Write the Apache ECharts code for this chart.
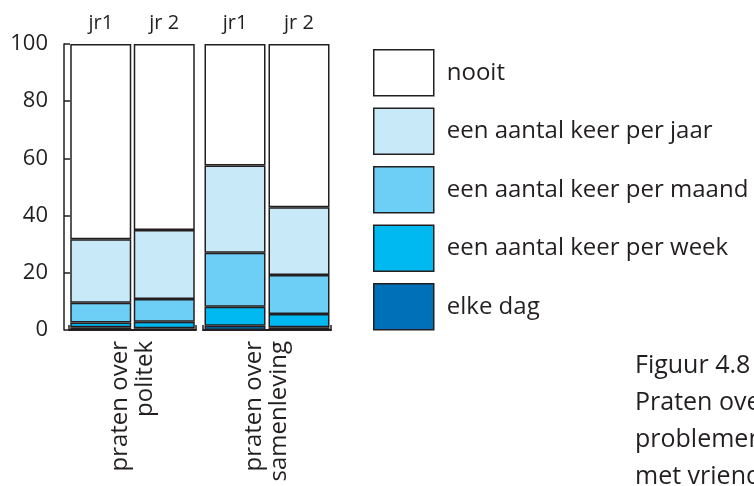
<!DOCTYPE html>
<html>
<head>
<meta charset="utf-8">
<script src="https://cdn.jsdelivr.net/npm/echarts@6/dist/echarts.min.js"></script>
<style>
html,body{margin:0;padding:0;background:#fff}
#main{width:754px;height:486px}
</style>
</head>
<body>
<div id="main"></div>
<script>
// data, bar order: politek jr1, politek jr2, samenleving jr1, samenleving jr2
var groups = ['praten over\npolitek', 'praten over\nsamenleving']
var years = ['jr1', 'jr 2']
var seriesNames = ['elke dag', 'een aantal keer per week', 'een aantal keer per maand', 'een aantal keer per jaar', 'nooit']
var dag = [1.0, 0.6, 1.5, 1.0]
var week = [1.6, 2.3, 6.6, 4.6]
var maand = [6.9, 7.9, 18.9, 13.6]
var jaar = [22.2, 24.2, 30.5, 23.7]
var nooit = [68.3, 65.0, 42.5, 57.1]
var yTicks = [0, 20, 40, 60, 80, 100]
var caption = 'Figuur 4.8\nPraten over\nproblemen\nmet vrienden'

var colors = ['#0070b8', '#00b9f0', '#6dcff5', '#c7e9f8', '#ffffff']
var ink = '#231f20'
var font = 'Open Sans'

function buildSeries(){
	var all = [dag, week, maand, jaar, nooit]
	var series = []
	for (var g = 0; g < 2; g++) {
		for (var s = 0; s < all.length; s++) {
			series.push({
				name: seriesNames[s],
				type: 'bar',
				stack: 'g' + g,
				xAxisIndex: g * 2,
				yAxisIndex: g,
				barWidth: 61,
				itemStyle: {color: colors[s], borderColor: ink, borderWidth: 1.5},
				data: all[s].slice(g * 2, g * 2 + 2)
			})
		}
	}
	return series
}

var xAxes = []
var yAxes = []
for (var g = 0; g < 2; g++) {
	xAxes.push({
		gridIndex: g, type: 'category', position: 'top', data: years,
		axisLine: {show: false}, axisTick: {show: false},
		axisLabel: {color: ink, fontFamily: font, fontSize: 20, margin: 11}
	})
	xAxes.push({
		gridIndex: g, type: 'category', position: 'bottom', data: [groups[g]],
		axisLine: {show: true, lineStyle: {color: ink, width: 2}},
		axisTick: {show: true, inside: true, length: 5, lineStyle: {color: ink, width: 1.5}},
		axisLabel: {color: ink, fontFamily: font, fontSize: 24, rotate: 90, margin: 11, lineHeight: 25}
	})
	yAxes.push({
		gridIndex: g, type: 'value', min: 0, max: 100, interval: 20,
		show: g === 0, offset: 5,
		axisLine: {show: true, lineStyle: {color: ink, width: 1.5}},
		axisTick: {show: true, inside: true, length: 6, lineStyle: {color: ink, width: 1.5}},
		splitLine: {show: false},
		axisLabel: {color: ink, fontFamily: font, fontSize: 22, margin: 16,
			formatter: function(v){ return yTicks.indexOf(v) >= 0 ? String(v) : '' }}
	})
}

var option = {
	animation: false,
	backgroundColor: '#fff',
	textStyle: {fontFamily: font, color: ink},
	title: {
		text: caption, left: 635, top: 347, padding: 0,
		textStyle: {color: ink, fontFamily: font, fontSize: 25, fontWeight: 'normal', lineHeight: 37}
	},
	legend: {
		orient: 'vertical', left: 373, top: 49, padding: 0,
		itemWidth: 60, itemHeight: 46, itemGap: 11, icon: 'rect',
		data: ['nooit', 'een aantal keer per jaar', 'een aantal keer per maand', 'een aantal keer per week', 'elke dag'],
		itemStyle: {borderColor: ink, borderWidth: 1.5},
		textStyle: {color: ink, fontFamily: font, fontSize: 24, padding: [0, 0, 0, 8]},
		selectedMode: false
	},
	grid: [
		{left: 69, top: 44, width: 127, height: 286},
		{left: 203, top: 44, width: 128, height: 286}
	],
	xAxis: xAxes,
	yAxis: yAxes,
	series: buildSeries()
}
var myChart = echarts.init(document.getElementById('main'))
myChart.setOption(option)
</script>
</body>
</html>
